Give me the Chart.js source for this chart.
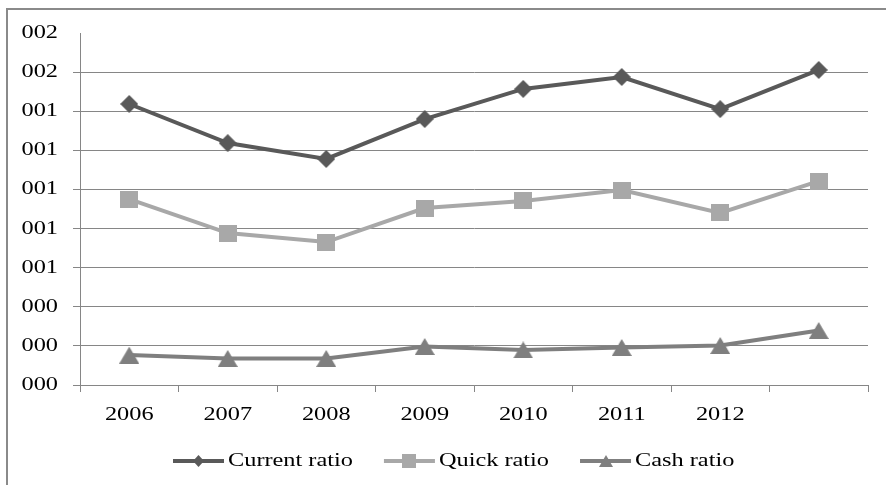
<!DOCTYPE html>
<html>
<head>
<meta charset="utf-8">
<script src="https://cdn.jsdelivr.net/npm/chart.js@4.4.1/dist/chart.umd.min.js"></script>
<style>
  html, body { margin: 0; padding: 0; background: #fff; width: 886px; height: 485px; overflow: hidden; }
  #frame { position: absolute; left: 6px; top: 8px; width: 1000px; height: 1000px; border: 2px solid #8a8a8a; box-sizing: border-box; }
  #c { position: absolute; left: 0; top: 0; }
</style>
</head>
<body>
<div id="frame"></div>
<canvas id="c" width="886" height="485"></canvas>
<script>
// Years on the category axis (the last period carries no label)
const years = ['2006', '2007', '2008', '2009', '2010', '2011', '2012', ''];

// Liquidity ratios per year
const currentRatio = [1.437, 1.237, 1.156, 1.360, 1.514, 1.575, 1.411, 1.611];
const quickRatio   = [0.951, 0.777, 0.731, 0.905, 0.941, 0.997, 0.880, 1.043];
const cashRatio    = [0.153, 0.136, 0.136, 0.197, 0.179, 0.192, 0.202, 0.279];

const seriesNames = ['Current ratio', 'Quick ratio', 'Cash ratio'];

// Value-axis labels, bottom to top, one per 0.2 step
const yTickLabels = ['000', '000', '000', '001', '001', '001', '001', '001', '002', '002'];
const yStep = 0.2;

const FONT = '"Liberation Serif", "Times New Roman", serif';
const STRETCH = 1.28;
const GRID = '#868686';
const COLORS = ['#595959', '#a8a8a8', '#7f7f7f'];

// Filled marker shapes rendered to small canvases (centred on the data point)
function marker(shape, w, h, color) {
  const c = document.createElement('canvas');
  c.width = w; c.height = h;
  const g = c.getContext('2d');
  g.fillStyle = color;
  g.beginPath();
  if (shape === 'diamond') {
    g.moveTo(w / 2, 0); g.lineTo(w, h / 2); g.lineTo(w / 2, h); g.lineTo(0, h / 2);
  } else if (shape === 'square') {
    g.rect(0, 0, w, h);
  } else {
    g.moveTo(w / 2, 0); g.lineTo(w, h); g.lineTo(0, h);
  }
  g.closePath();
  g.fill();
  return c;
}

const pointMarkers = [
  marker('diamond', 18, 18, COLORS[0]),
  marker('square', 18, 17, COLORS[1]),
  marker('triangle', 20, 17, COLORS[2])
];
const legendMarkers = [
  marker('diamond', 11, 12, COLORS[0]),
  marker('square', 14, 14, COLORS[1]),
  marker('triangle', 14, 12, COLORS[2])
];

// Wide serif lettering: every text draw is widened horizontally about its anchor
const widenText = {
  id: 'widenText',
  beforeInit(chart) {
    const ctx = chart.ctx;
    const base = ctx.fillText.bind(ctx);
    ctx.fillText = function (t, x, y) {
      this.save();
      this.translate(x, y);
      this.scale(STRETCH, 1);
      base(t, 0, 0);
      this.restore();
    };
  }
};

// Legend below the plot: line sample with marker, then series name
const seriesLegend = {
  id: 'seriesLegend',
  afterDraw(chart) {
    const ctx = chart.ctx;
    ctx.save();
    ctx.font = '19px ' + FONT;
    ctx.textBaseline = 'middle';
    ctx.textAlign = 'left';
    const y = 461;
    let x = 173;
    chart.data.datasets.forEach((ds, i) => {
      ctx.strokeStyle = ds.borderColor;
      ctx.lineWidth = 4;
      ctx.beginPath();
      ctx.moveTo(x, y);
      ctx.lineTo(x + 51, y);
      ctx.stroke();
      const m = legendMarkers[i];
      ctx.drawImage(m, Math.round(x + 25.5 - m.width / 2), Math.round(y - m.height / 2));
      ctx.fillStyle = '#000';
      ctx.fillText(ds.label, x + 55, y);
      x += 55 + ctx.measureText(ds.label).width * STRETCH + 31;
    });
    ctx.restore();
  }
};

const seriesData = [currentRatio, quickRatio, cashRatio];

new Chart(document.getElementById('c'), {
  type: 'line',
  data: {
    labels: years,
    datasets: seriesData.map((d, i) => ({
      label: seriesNames[i],
      data: d,
      borderColor: COLORS[i],
      backgroundColor: COLORS[i],
      borderWidth: 4,
      tension: 0,
      pointStyle: pointMarkers[i],
      pointRadius: 9
    }))
  },
  options: {
    responsive: false,
    animation: false,
    layout: { padding: { left: 0, right: 18, top: 33, bottom: 0 } },
    plugins: { legend: { display: false }, tooltip: { enabled: false } },
    scales: {
      x: {
        offset: true,
        grid: { offset: true, drawOnChartArea: false, drawTicks: true, tickLength: 7, color: GRID, lineWidth: 1 },
        border: { color: GRID, width: 1 },
        ticks: { font: { family: FONT, size: 19 }, color: '#000', padding: 12, maxRotation: 0, autoSkip: false },
        afterFit(s) { s.height = 100; }
      },
      y: {
        min: 0,
        max: (yTickLabels.length - 1) * yStep,
        afterBuildTicks(s) { s.ticks = yTickLabels.map((_, i) => ({ value: i * yStep })); },
        grid: {
          color: c => (c.index === yTickLabels.length - 1 ? 'rgba(0,0,0,0)' : GRID),
          tickLength: 7,
          lineWidth: 1
        },
        border: { color: GRID, width: 1 },
        ticks: {
          font: { family: FONT, size: 19 },
          color: '#000',
          padding: 15,
          callback: (v, i) => yTickLabels[i]
        },
        afterFit(s) { s.width = 80; }
      }
    }
  },
  plugins: [widenText, seriesLegend]
});
</script>
</body>
</html>
